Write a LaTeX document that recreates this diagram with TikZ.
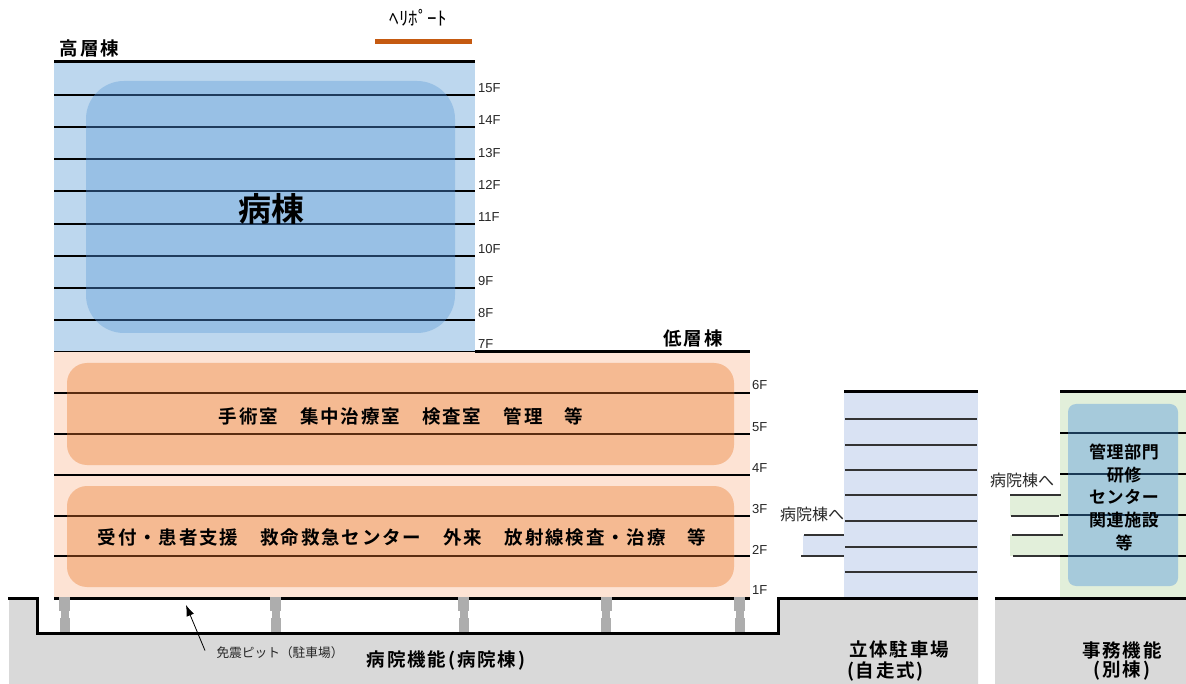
\documentclass[tikz,border=0pt]{standalone}
\usepackage{fontspec}
\usetikzlibrary{arrows.meta}
\setmainfont{Liberation Sans}
\newfontfamily\jr{Noto Sans CJK JP}
\newfontfamily\jb[LetterSpace=10]{Noto Sans CJK JP Bold}
\newfontfamily\jc[LetterSpace=3]{Noto Sans CJK JP Bold}
\newfontfamily\jd{Noto Sans CJK JP Bold}
\definecolor{towerbg}{HTML}{BDD7EE}
\definecolor{towerin}{HTML}{98C0E5}
\definecolor{towerln}{HTML}{1F3B5C}
\definecolor{lowbg}{HTML}{FDE3D4}
\definecolor{lowin}{HTML}{F5BA92}
\definecolor{lowln}{HTML}{5A2C10}
\definecolor{parkbg}{HTML}{D9E2F3}
\definecolor{offbg}{HTML}{E2EFDA}
\definecolor{offin}{HTML}{A6CADB}
\definecolor{offln}{HTML}{1A3A55}
\definecolor{ground}{HTML}{D9D9D9}
\definecolor{iso}{HTML}{ADADAD}
\definecolor{heli}{HTML}{C55A11}
\tikzset{
  thick line/.style={line width=3pt,black},
  floor line/.style={line width=1.8pt,black},
  thin line/.style={line width=1.1pt,black!80},
  floorlabel/.style={anchor=west,inner sep=0pt,font=\fontsize{13}{13}\selectfont,text=black!85},
  headb/.style={inner sep=0pt,font=\jb\fontsize{18.5}{18.5}\selectfont},
  headc/.style={inner sep=0pt,font=\jc\fontsize{17}{17}\selectfont},
  small/.style={inner sep=0pt,text=black!85},
  isoblock/.style={fill=iso,draw=none},
}
\begin{document}
\begin{tikzpicture}[x=1pt,y=-1pt]
\useasboundingbox (0,0) rectangle (1186,684);
% ground
\fill[ground] (9,598) -- (37,598) -- (37,633) -- (778,633) -- (778,598) -- (978,598) -- (978,684) -- (9,684) -- cycle;
\fill[ground] (995,598) rectangle (1186,684);
% tower
\fill[towerbg] (54,62) rectangle (475,352);
\fill[towerin,rounded corners=38pt] (86,81) rectangle (455,333);
\foreach \y in {95,127,159,191,224,256,288,320}{
  \draw[floor line] (54,\y) -- (475,\y);
  \begin{scope}
    \clip[rounded corners=38pt] (86,81) rectangle (455,333);
    \draw[line width=1.8pt,towerln] (54,\y) -- (475,\y);
  \end{scope}
}
\draw[thick line] (54,62) -- (475,62);
% low-rise
\fill[lowbg] (54,352) rectangle (750,598);
\foreach \y in {393,434,475,516,556}{\draw[floor line] (54,\y) -- (750,\y);}
\fill[lowin,rounded corners=20pt] (67,363) rectangle (734,465);
\fill[lowin,rounded corners=20pt] (67,486) rectangle (734,587);
\foreach \y in {393,434,516,556}{\draw[line width=1.8pt,lowln] (67,\y) -- (734,\y);}
\draw[line width=1.6pt,black] (54,351.5) -- (475,351.5);
\draw[line width=2.6pt,black] (475,351.5) -- (750,351.5);
% helipad
\fill[heli] (375,39) rectangle (472,44);
% parking
\fill[parkbg] (844,392) rectangle (978,598);
\fill[parkbg] (803,535) rectangle (845,556);
\foreach \y in {419,445,470,495,521,547,572}{\draw[thin line] (845,\y) -- (977,\y);}
\draw[thin line] (804,535) -- (844,535);
\draw[thin line] (801,556) -- (844,556);
\draw[thick line] (844,392) -- (978,392);
% office
\fill[offbg] (1060,392) rectangle (1186,598);
\fill[offbg] (1010,495) rectangle (1060,516);
\fill[offbg] (1010,535) rectangle (1060,556);
\foreach \y in {433,474,515,556}{\draw[floor line] (1060,\y) -- (1186,\y);}
\fill[offin,rounded corners=8pt] (1068,404) rectangle (1178,586);
\foreach \y in {433,474,515,556}{\draw[line width=1.8pt,offln] (1068,\y) -- (1178,\y);}
\draw[thin line] (1010,495) -- (1061,495);
\draw[thin line] (1011,516) -- (1059,516);
\draw[thin line] (1012,535) -- (1063,535);
\draw[thin line] (1013,556) -- (1060,556);
\draw[thick line] (1060,392) -- (1186,392);
% ground outline and base
\draw[thick line,line cap=butt,line join=miter] (8,598) -- (37,598) -- (37,633) -- (778,633) -- (778,598) -- (978,598);
\draw[thick line] (995,598) -- (1186,598);
\draw[thick line] (54,598) -- (750,598);
% isolators
\foreach \x in {64.5,275.5,463.5,606,739.5}{
  \fill[isoblock] (\x-5.5,597) rectangle (\x+5.5,611);
  \fill[isoblock] (\x-4,611) rectangle (\x+4,618);
  \fill[isoblock] (\x-5,618) rectangle (\x+5,632);
}
% floor labels
\foreach \t/\y in {15F/88,14F/120,13F/153,12F/185,11F/217,10F/249,9F/281,8F/313,7F/344.5}{
  \node[floorlabel] (f\t) at (478,\y) {\t};
}
\foreach \t/\y in {6F/385,5F/427,4F/468,3F/509,2F/550,1F/590}{
  \node[floorlabel] (f\t) at (752,\y) {\t};
}
% labels
\node[inner sep=0pt,font=\jr\fontsize{19}{19}\selectfont] (helilabel) at (418,18) {ﾍﾘﾎﾟｰﾄ};
\node[headb] (highrise) at (89.5,48) {高層棟};
\node[headb] (lowrise) at (693,338) {低層棟};
\node[inner sep=0pt,font=\jd\fontsize{33}{33}\selectfont] (ward) at (271,209) {病棟};
\node[headb] (upper) at (401,416) {手術室　集中治療室　検査室　管理　等};
\node[headb] (lower) at (402,537) {受付・患者支援　救命救急センター　外来　放射線検査・治療　等};
\node[headc] (o1) at (1124,452) {管理部門};
\node[headc] (o2) at (1124,475) {研修};
\node[headc] (o3) at (1124,497) {センター};
\node[headc] (o4) at (1124,520) {関連施設};
\node[headc] (o5) at (1124,543) {等};
\node[small,font=\jr\fontsize{16}{16}\selectfont] (toH1) at (812,514) {病院棟へ};
\node[small,font=\jr\fontsize{16}{16}\selectfont] (toH2) at (1022,480) {病院棟へ};
\node[small,font=\jr\fontsize{12.7}{12.7}\selectfont] (pit) at (280,653) {免震ピット（駐車場）};
\node[headb] (hosp) at (446,660) {病院機能(病院棟)};
\node[headb] (park1) at (899,649) {立体駐車場};
\node[headb] (park2) at (885.5,671) {(自走式)};
\node[headb] (admin1) at (1122,650) {事務機能};
\node[headb] (admin2) at (1122,671) {(別棟)};
% arrow
\coordinate (arrS) at (205,650.5);
\coordinate (arrE) at (186,605);
\draw[line width=.8pt,-{Latex[length=11pt,width=8pt]}] (arrS) -- (arrE);
\end{tikzpicture}
\end{document}
